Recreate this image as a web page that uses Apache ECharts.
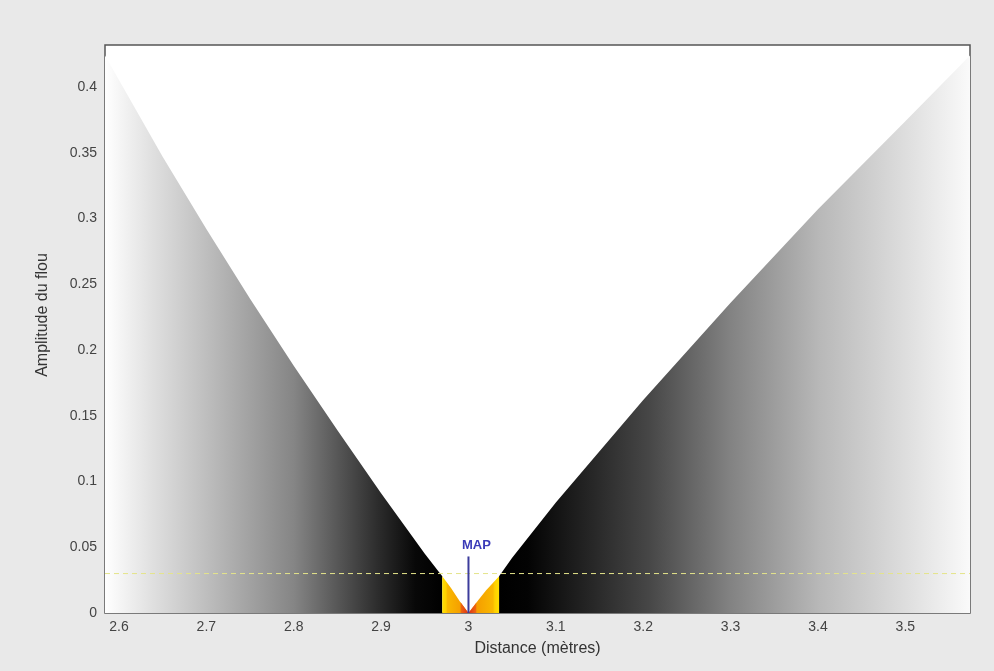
<!DOCTYPE html>
<html>
<head>
<meta charset="utf-8">
<script src="https://cdn.jsdelivr.net/npm/echarts@6/dist/echarts.min.js"></script>
<style>
  html, body { margin: 0; padding: 0; background: #e9e9e9; }
</style>
</head>
<body>
<!-- 图表容器 -->
<div id="container" style="width: 994px;height:671px;"></div>
<script>
  // 左侧模糊边 (distance, amplitude)
  var leftEdgeDist = [2.584, 2.65, 2.7, 2.75, 2.8, 2.85, 2.9, 2.95, 2.97];
  var leftEdgeAmp = [0.424, 0.347, 0.292, 0.239, 0.188, 0.139, 0.091, 0.045, 0.028];
  // 清晰区 (黄色/橙色)
  var focusLeftDist = [2.97, 2.98, 2.99, 3.0];
  var focusLeftAmp = [0.028, 0.019, 0.009, 0];
  var focusRightDist = [3.0, 3.01, 3.02, 3.035];
  var focusRightAmp = [0, 0.0087, 0.0172, 0.028];
  // 红色区
  var redLeftDist = [2.991, 2.996, 3.0];
  var redLeftAmp = [0.0082, 0.0036, 0];
  var redRightDist = [3.0, 3.004, 3.009];
  var redRightAmp = [0, 0.0035, 0.0078];
  // 右侧模糊边
  var rightEdgeDist = [3.035, 3.05, 3.1, 3.2, 3.3, 3.4, 3.5, 3.574];
  var rightEdgeAmp = [0.028, 0.042, 0.084, 0.162, 0.236, 0.307, 0.374, 0.424];
  // 阈值 / MAP
  var seuil = 0.03;
  var mapDist = 3.0;
  var mapAmp = 0.043;
  var xMin = 2.584, xMax = 3.574, yMax = 0.432;

  function pairs(xs, ys) {
    return xs.map(function (x, i) { return [x, ys[i]]; });
  }

  var myChart = echarts.init(document.getElementById('container'));
  var font = "'Liberation Sans', Arial, sans-serif";

  function areaSeries(data, stops) {
    return {
      type: 'line',
      data: data,
      symbol: 'none',
      silent: true,
      lineStyle: {opacity: 0},
      areaStyle: {
        opacity: 1,
        color: new echarts.graphic.LinearGradient(0, 0, 1, 0, stops)
      }
    };
  }

  myChart.setOption({
    backgroundColor: '#e9e9e9',
    animation: false,
    grid: {
      left: 105, right: 24, top: 45, bottom: 58,
      show: true,
      backgroundColor: '#ffffff',
      borderColor: '#555555',
      borderWidth: 1.5
    },
    xAxis: {
      type: 'value',
      min: xMin,
      max: xMax,
      splitNumber: 10,
      name: 'Distance (mètres)',
      nameLocation: 'middle',
      nameGap: 28,
      nameTextStyle: {color: '#333', fontSize: 16, fontFamily: font},
      axisLine: {show: false},
      axisTick: {show: false},
      splitLine: {show: false},
      axisLabel: {
        color: '#444', fontSize: 14, fontFamily: font, margin: 7,
        showMinLabel: false, showMaxLabel: false
      }
    },
    yAxis: {
      type: 'value',
      min: 0,
      max: yMax,
      interval: 0.05,
      name: 'Amplitude du flou',
      nameLocation: 'middle',
      nameGap: 54,
      nameTextStyle: {color: '#333', fontSize: 16, fontFamily: font, padding: [0, 0, 0, 28]},
      axisLine: {show: false},
      axisTick: {show: false},
      splitLine: {show: false},
      axisLabel: {
        color: '#444', fontSize: 14, fontFamily: font, margin: 8,
        showMaxLabel: false
      }
    },
    series: [
      areaSeries(pairs(leftEdgeDist, leftEdgeAmp), [
        {offset: 0, color: '#ffffff'},
        {offset: 0.13, color: '#e2e2e2'},
        {offset: 0.30, color: '#bebebe'},
        {offset: 0.56, color: '#858585'},
        {offset: 0.81, color: '#2c2c2c'},
        {offset: 0.92, color: '#080808'},
        {offset: 1, color: '#000000'}
      ]),
      areaSeries(pairs(rightEdgeDist, rightEdgeAmp), [
        {offset: 0, color: '#000000'},
        {offset: 0.06, color: '#030303'},
        {offset: 0.21, color: '#2a2a2a'},
        {offset: 0.32, color: '#474747'},
        {offset: 0.49, color: '#828282'},
        {offset: 0.68, color: '#b8b8b8'},
        {offset: 0.86, color: '#dddddd'},
        {offset: 1, color: '#fafafa'}
      ]),
      areaSeries(pairs(focusLeftDist, focusLeftAmp), [
        {offset: 0, color: '#ffe000'},
        {offset: 0.14, color: '#ffd000'},
        {offset: 0.2, color: '#f9b800'},
        {offset: 1, color: '#f39000'}
      ]),
      areaSeries(pairs(focusRightDist, focusRightAmp), [
        {offset: 0, color: '#f39000'},
        {offset: 0.8, color: '#f9b800'},
        {offset: 0.86, color: '#ffd000'},
        {offset: 1, color: '#ffe000'}
      ]),
      areaSeries(pairs(redLeftDist, redLeftAmp), [
        {offset: 0, color: '#ee6a10'},
        {offset: 1, color: '#dd3018'}
      ]),
      areaSeries(pairs(redRightDist, redRightAmp), [
        {offset: 0, color: '#dd3018'},
        {offset: 1, color: '#ee6a10'}
      ]),
      {
        // 阈值虚线
        type: 'line',
        data: [[xMin, seuil], [xMax, seuil]],
        symbol: 'none',
        silent: true,
        lineStyle: {color: '#e4e48a', width: 1, type: [5, 4]}
      },
      {
        // MAP
        type: 'line',
        data: [[mapDist, 0], [mapDist, mapAmp]],
        symbol: 'none',
        silent: true,
        lineStyle: {color: '#3c3c9c', width: 2},
        endLabel: {
          show: true,
          formatter: 'MAP',
          color: '#3b3bb8',
          fontWeight: 'bold',
          fontSize: 13,
          fontFamily: font,
          align: 'center',
          verticalAlign: 'bottom',
          offset: [0, -5]
        }
      }
    ]
  });
</script>
</body>
</html>
